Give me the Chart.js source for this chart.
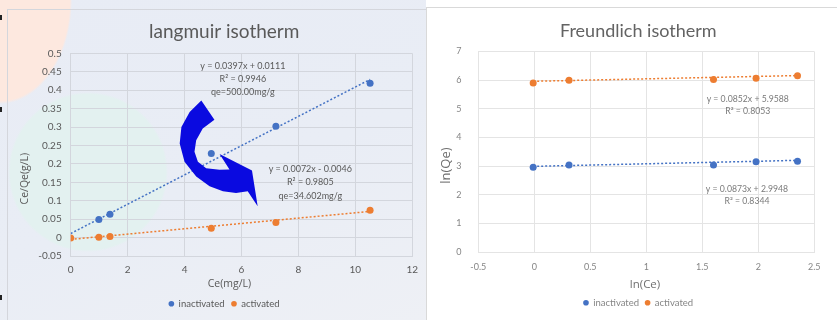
<!DOCTYPE html>
<html><head><meta charset="utf-8">
<script src="https://cdn.jsdelivr.net/npm/chart.js@4.4.0/dist/chart.umd.min.js"></script>
<style>
html,body{margin:0;padding:0;width:837px;height:320px;overflow:hidden;background:#fff;}
#bgL{position:absolute;left:0;top:0;width:426px;height:320px;background:
 radial-gradient(ellipse 72px 104px at 0px 0px, #fde8df 0, #fde8df 97%, rgba(253,232,223,0) 100%),
 radial-gradient(circle 80px at 88px 172px, #e3f1f0 0, #e3f1f0 97%, rgba(227,241,240,0) 100%),
 linear-gradient(160deg, #e8ecf5 0%, #e9edf5 55%, #eef0f5 100%);}
#panelL{position:absolute;left:7px;top:9px;width:418px;height:310px;border-left:1px solid #d4d6dc;border-top:1px solid #d4d6dc;}
#panelR{position:absolute;left:426px;top:7px;width:410px;height:312px;border-left:1px solid #d9d9d9;border-top:1px solid #d9d9d9;background:#fff;}
canvas{display:block;}
.mk{position:absolute;left:0;width:2px;height:5px;background:#222;}
</style></head>
<body>
<div id="bgL"></div>
<div class="mk" style="top:15px"></div>
<div class="mk" style="top:107px"></div>
<div class="mk" style="top:295px"></div>
<div id="panelL"><canvas id="cL" width="418" height="310"></canvas></div>
<div id="panelR"><canvas id="cR" width="410" height="312"></canvas></div>
<script>
// ---------- Data: Langmuir ----------
const langCeInact = [0.99, 1.38, 4.94, 7.21, 10.52];
const langCeQeInact = [0.049, 0.063, 0.228, 0.302, 0.419];
const langCeAct = [0, 0.99, 1.38, 4.94, 7.21, 10.52];
const langCeQeAct = [-0.001, 0.001, 0.003, 0.025, 0.041, 0.074];
const langTrendX = [0, 10.52];
const langTrendInact = [0.011, 0.429];
const langTrendAct = [-0.005, 0.071];
const langXTicks = [0, 2, 4, 6, 8, 10, 12];
const langYTicks = [-0.05, 0, 0.05, 0.1, 0.15, 0.2, 0.25, 0.3, 0.35, 0.4, 0.45, 0.5];
const langNotes = [
  {x: 6.05, y: 0.466, lines: ['y = 0.0397x + 0.0111', 'R² = 0.9946', 'qe=500.00mg/g']},
  {x: 8.42, y: 0.186, lines: ['y = 0.0072x - 0.0046', 'R² = 0.9805', 'qe=34.602mg/g']}
];
// ---------- Data: Freundlich ----------
const freLnCe = [-0.01, 0.31, 1.60, 1.98, 2.35];
const freLnQeInact = [2.96, 3.04, 3.04, 3.15, 3.17];
const freLnQeAct = [5.90, 6.00, 6.02, 6.07, 6.15];
const freTrendX = [-0.01, 2.35];
const freTrendInact = [2.99, 3.20];
const freTrendAct = [5.96, 6.16];
const freXTicks = [-0.5, 0, 0.5, 1, 1.5, 2, 2.5];
const freYTicks = [0, 1, 2, 3, 4, 5, 6, 7];
const freNotes = [
  {x: 1.906, y: 5.34, lines: ['y = 0.0852x + 5.9588', 'R² = 0.8053']},
  {x: 1.899, y: 2.20, lines: ['y = 0.0873x + 2.9948', 'R² = 0.8344']}
];
const seriesNames = ['inactivated', 'activated'];

const BLUE = '#4472C4', ORANGE = '#ED7D31';
const pts = (xs, ys) => xs.map((x, i) => ({x: x, y: ys[i]}));
const fmt = v => String(parseFloat(Number(v).toFixed(4)));

function notesPlugin(notes, font, color, lh) {
  return {id: 'notes', afterDatasetsDraw(chart) {
    const ctx = chart.ctx, sx = chart.scales.x, sy = chart.scales.y;
    ctx.save(); ctx.font = font; ctx.fillStyle = color; ctx.textAlign = 'center'; ctx.textBaseline = 'middle';
    notes.forEach(n => {
      const px = sx.getPixelForValue(n.x), py = sy.getPixelForValue(n.y);
      n.lines.forEach((t, i) => ctx.fillText(t, px, py + i * lh));
    });
    ctx.restore();
  }};
}
function axisTitlesPlugin(cfg) {
  return {id: 'axisTitles', afterDraw(chart) {
    const ctx = chart.ctx, a = chart.chartArea;
    ctx.save(); ctx.textAlign = 'center'; ctx.textBaseline = 'middle';
    ctx.fillStyle = cfg.color;
    ctx.font = cfg.x.font;
    ctx.fillText(cfg.x.text, (a.left + a.right) / 2 + cfg.x.dx, a.bottom + cfg.x.dy);
    ctx.font = cfg.y.font;
    ctx.translate(a.left + cfg.y.dx, (a.top + a.bottom) / 2 + cfg.y.dy);
    ctx.rotate(-Math.PI / 2);
    ctx.fillText(cfg.y.text, 0, 0);
    ctx.restore();
  }};
}
// decorative curved arrow (shape outline in data units of the Langmuir axes)
const arrowShape = [[4.59,0.372],[5.05,0.320],[4.64,0.296],[4.41,0.264],[4.35,0.233],[4.47,0.206],[4.76,0.188],[5.23,0.184],[5.58,0.185],[5.23,0.227],[6.37,0.182],[6.57,0.085],[6.22,0.126],[5.81,0.121],[5.35,0.126],[4.88,0.139],[4.41,0.166],[4.00,0.206],[3.83,0.255],[3.89,0.300],[4.18,0.341]];
const arrowPlugin = {id: 'arrow', afterDatasetsDraw(chart) {
  const ctx = chart.ctx, sx = chart.scales.x, sy = chart.scales.y;
  ctx.save(); ctx.beginPath();
  arrowShape.forEach((p, i) => {
    const px = sx.getPixelForValue(p[0]), py = sy.getPixelForValue(p[1]);
    if (i) ctx.lineTo(px, py); else ctx.moveTo(px, py);
  });
  ctx.closePath(); ctx.fillStyle = '#0a0ae0'; ctx.fill(); ctx.restore();
}};

function makeChart(id, o) {
  const ds = [
    {label: seriesNames[0], data: o.inact, backgroundColor: BLUE, borderColor: BLUE, pointRadius: 3.5, pointHoverRadius: 3.5, borderWidth: 0, pointStyle: 'circle'},
    {label: seriesNames[1], data: o.act, backgroundColor: ORANGE, borderColor: ORANGE, pointRadius: 3.5, pointHoverRadius: 3.5, borderWidth: 0, pointStyle: 'circle'},
    {label: 'trend1', data: o.trIn, showLine: true, borderColor: BLUE, borderWidth: 1.5, borderDash: [2, 2], pointRadius: 0, fill: false},
    {label: 'trend2', data: o.trAct, showLine: true, borderColor: ORANGE, borderWidth: 1.5, borderDash: [2, 2], pointRadius: 0, fill: false}
  ];
  return new Chart(document.getElementById(id), {
    type: 'scatter',
    data: {datasets: ds},
    plugins: o.plugins,
    options: {
      responsive: false, animation: false, devicePixelRatio: 1,
      layout: {padding: {left: o.pad.l, right: o.pad.r, top: 0, bottom: o.pad.b}},
      plugins: {
        tooltip: {enabled: false},
        title: {display: true, text: o.title, color: o.titleColor, font: {family: 'Lato', size: o.titleSize, weight: 'normal'}, padding: {top: o.titlePad[0], bottom: o.titlePad[1]}},
        legend: {position: 'bottom', labels: {filter: it => !it.text.startsWith('trend'), usePointStyle: true, pointStyle: 'circle', boxWidth: 5, boxHeight: 4, padding: o.legendPad, color: o.tickColor, font: {family: 'Lato', size: 9.5}}}
      },
      scales: {
        x: {type: 'linear', min: o.xTicks[0], max: o.xTicks[o.xTicks.length - 1],
          afterBuildTicks: s => { s.ticks = o.xTicks.map(v => ({value: v})); },
          afterFit: s => { s.height = o.xH; },
          grid: {color: o.grid, drawTicks: false, lineWidth: 1},
          border: {display: true, color: o.grid},
          ticks: {padding: o.xTickPad, color: o.tickColor, font: {family: 'Lato', size: o.tickSize}, callback: v => fmt(v), maxRotation: 0, autoSkip: false}},
        y: {type: 'linear', min: o.yTicks[0], max: o.yTicks[o.yTicks.length - 1],
          afterBuildTicks: s => { s.ticks = o.yTicks.map(v => ({value: v})); },
          afterFit: s => { s.width = o.yW; },
          grid: {color: o.grid, drawTicks: false, lineWidth: 1},
          border: {display: true, color: o.grid},
          ticks: {mirror: !!o.yMirror, padding: o.yTickPad, color: o.tickColor, font: {family: 'Lato', size: o.tickSize}, callback: v => fmt(v), autoSkip: false}}
      }
    }
  });
}

makeChart('cL', {
  inact: pts(langCeInact, langCeQeInact), act: pts(langCeAct, langCeQeAct),
  trIn: pts(langTrendX, langTrendInact), trAct: pts(langTrendX, langTrendAct),
  xTicks: langXTicks, yTicks: langYTicks,
  title: 'langmuir isotherm', titleColor: '#595959', titleSize: 19, titlePad: [10.6, 9.9],
  pad: {l: 27.4, r: 13, b: 1.5}, xH: 36, yW: 35.3, xTickPad: 8, yTickPad: 9, legendPad: 7,
  tickColor: '#595959', tickSize: 10, grid: '#d3d6dd',
  plugins: [arrowPlugin, notesPlugin(langNotes, '9px Lato', '#595959', 13.3),
    axisTitlesPlugin({color: '#595959', x: {text: 'Ce(mg/L)', font: '10.5px "Open Sans"', dx: -12, dy: 28}, y: {text: 'Ce/Qe(g/L)', font: '10.5px "Open Sans"', dx: -45.7, dy: 24}})]
});
makeChart('cR', {
  inact: pts(freLnCe, freLnQeInact), act: pts(freLnCe, freLnQeAct),
  trIn: pts(freTrendX, freTrendInact), trAct: pts(freTrendX, freTrendAct),
  xTicks: freXTicks, yTicks: freYTicks,
  title: 'Freundlich isotherm', titleColor: '#636363', titleSize: 18, titlePad: [12.2, 9.7],
  pad: {l: 35.3, r: 22.7, b: 2.5}, xH: 40, yW: 16, xTickPad: 10, yTickPad: -22, yMirror: true, legendPad: 6,
  tickColor: '#858585', tickSize: 9, grid: '#e4e4e4',
  plugins: [notesPlugin(freNotes, '8.7px Lato', '#7a7a7a', 12.3),
    axisTitlesPlugin({color: '#707070', x: {text: 'ln(Ce)', font: '11.5px "Open Sans"', dx: -1.3, dy: 32.3}, y: {text: 'ln(Qe)', font: '13px "Open Sans"', dx: -31.6, dy: 13.8}})]
});
</script>
</body></html>
